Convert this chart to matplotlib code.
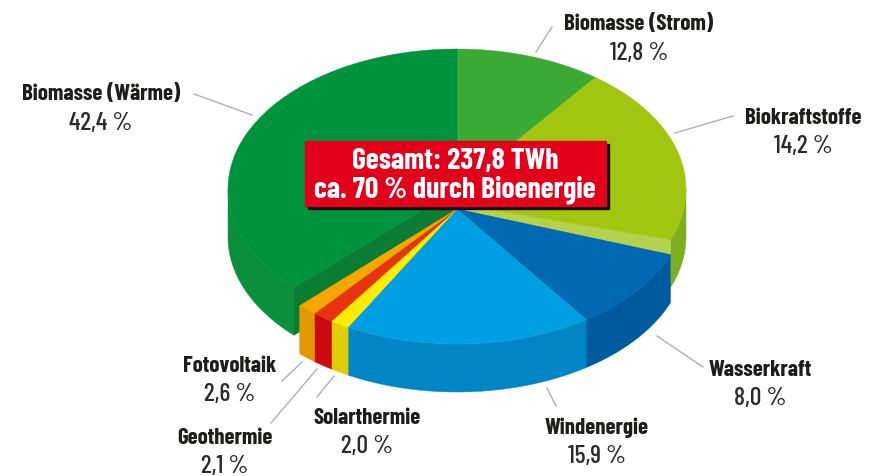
import numpy as np
import matplotlib
matplotlib.use("Agg")
import matplotlib.pyplot as plt
from matplotlib.patches import Rectangle

# Slices clockwise from twelve o'clock
names = ["Biomasse (Strom)", "Biokraftstoffe", "Wasserkraft", "Windenergie",
         "Solarthermie", "Geothermie", "Fotovoltaik", "Biomasse (Wärme)"]
shares = [12.8, 14.2, 8.0, 15.9, 2.0, 2.1, 2.6, 42.4]
# Sweep of each slice as it is drawn in the picture, in degrees (the artwork
# is not proportional to the printed shares)
drawn_sweep = [37.2, 74.0, 34.5, 62.7, 4.8, 5.3, 4.9, 134.6]
title_lines = ["Gesamt: 237,8 TWh", "ca. 70 % durch Bioenergie"]

top_colors = ["#3aaa35", "#a2c510", "#0069b4", "#009fe3",
              "#ffec00", "#e8340e", "#f7a600", "#00933e"]
side_colors = ["#3aaa35", "#7cae20", "#005a9e", "#0085c7",
               "#e3cc00", "#cc0a12", "#e09a00", "#0a8f3c"]
# The slices from Wasserkraft to Fotovoltaik sit further forward
pulled = [False, False, True, True, True, True, True, False]

label_pos = [(639, 24), (803, 118), (760, 370), (597, 428),
             (367, 418), (225, 438), (230, 366), (101, 94)]
leaders = [((536, 53), (552, 28)), ((675, 134), (733, 117)),
           ((657, 337), (703, 368)), ((547, 389), (556, 407)),
           ((334, 377), (317, 398)), ((317, 370), (271, 424)),
           ((302, 363), (282, 382)), ((194, 95), (252, 116))]

label_font = ["Barlow Condensed", "Liberation Sans"]

cx = 457
rx, ry = 229, 140
cy_back, cy_front = 190, 205
apex_back, apex_front = 190, 210
depth = 48

fig = plt.figure(figsize=(8.8, 4.77), dpi=100)
ax = fig.add_axes([0, 0, 1, 1])
ax.set_xlim(0, 880)
ax.set_ylim(477, 0)
ax.axis("off")

edges = np.concatenate([[0], np.cumsum(drawn_sweep)])
starts = edges[:-1].copy()
ends = edges[1:].copy()
# the last slice closes the circle, a small part of the rim stays open before it
starts[-1] = 360 - drawn_sweep[-1]
ends[-1] = 360


def arc(t0, t1, cy):
    t = np.radians(np.linspace(t0, t1, 120))
    return cx + rx * np.sin(t), cy - ry * np.cos(t)


def draw_side(t0, t1, cy, color, z):
    # visible outer wall, only the part of the rim facing the viewer
    t0 = max(t0, 90)
    t1 = min(t1, 270)
    if t1 <= t0:
        return
    x, y = arc(t0, t1, cy)
    ax.fill(np.r_[x, x[::-1]], np.r_[y, y[::-1] + depth],
            color=color, lw=0.3, zorder=z)


# cut faces, seen where the front slices are pulled away
x, y = arc(ends[1], ends[1], cy_back)
ax.fill([cx, x[0], x[0], cx], [205, y[0], y[0] + depth, 205 + depth],
        color="#b5d14e", lw=0.3, zorder=1)
x, y = arc(starts[7], starts[7], cy_back)
ax.fill([cx, x[0], x[0], cx],
        [apex_back, y[0], y[0] + depth, apex_back + depth],
        color="#0a7d35", lw=0.3, zorder=1)

for i in range(len(shares)):
    cy = cy_front if pulled[i] else cy_back
    apex = apex_front if pulled[i] else apex_back
    draw_side(starts[i], ends[i], cy, side_colors[i], 3 if pulled[i] else 0.5)
    x, y = arc(starts[i], ends[i], cy)
    if names[i] == "Biokraftstoffe":
        # its lower cut edge runs to a point below the upper one
        ax.fill(np.r_[cx, x, cx], np.r_[apex, y, 205], color=top_colors[i],
                lw=0.3, zorder=2)
    else:
        ax.fill(np.r_[cx, x], np.r_[apex, y], color=top_colors[i], lw=0.3,
                zorder=3.5 if pulled[i] else 2)

# box with the total
ax.add_patch(Rectangle((308, 145), 301, 65, color="#111111", zorder=5))
ax.add_patch(Rectangle((305, 142), 301, 65, color="#e2001a", zorder=6))
for line, y in zip(title_lines, [161.5, 190]):
    ax.text(455, y, line, color="white", fontsize=21.4, fontweight="bold",
            family=label_font, ha="center", va="center", zorder=7)

for name, share, (x, y), (p0, p1) in zip(names, shares, label_pos, leaders):
    ax.plot([p0[0], p1[0]], [p0[1], p1[1]], color="#b0b0b0", lw=1, zorder=0.2)
    ax.text(x, y, name, fontsize=16.5, fontweight="bold", color="#1d1d1b",
            family=label_font, ha="center", va="center")
    ax.text(x, y + 29, f"{share:.1f} %".replace(".", ","), fontsize=18.5,
            fontweight="medium", color="#2a2a28", family=label_font,
            ha="center", va="center")

fig.savefig("out.png", dpi=100)
